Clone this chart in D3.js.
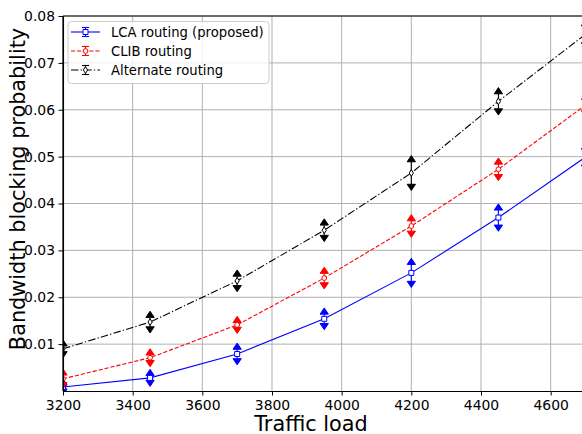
<!DOCTYPE html>
<html>
<head>
<meta charset="utf-8">
<script src="https://cdn.jsdelivr.net/npm/d3@7"></script>
<style>
  body { margin: 0; background: #fff; }
  svg { display: block; }
  text { font-family: "DejaVu Sans", sans-serif; fill: #000; }
</style>
</head>
<body>
<svg id="chart" width="582" height="434"></svg>
<script>
// Offered traffic load (x) and blocking probability per routing scheme
const loads = [3200, 3450, 3700, 3950, 4200, 4450, 4700];
const lcaBlocking  = [0.00085, 0.0028, 0.0079, 0.0154, 0.0252, 0.0370, 0.0499];
const clibBlocking = [0.0026, 0.0071, 0.0141, 0.0241, 0.0352, 0.0473, 0.0610];
const altBlocking  = [0.0090, 0.0147, 0.0235, 0.0343, 0.0465, 0.0618, 0.0761];
// Half-width of the confidence interval at each load
const lcaErr  = [0.0004, 0.0005, 0.0010, 0.0010, 0.0018, 0.0016, 0.0017];
const clibErr = [0.0008, 0.0006, 0.0005, 0.0010, 0.0011, 0.0011, 0.0012];
const altErr  = [0.0006, 0.0010, 0.0010, 0.0011, 0.0024, 0.0016, 0.0018];

const seriesNames = ["LCA routing (proposed)", "CLIB routing", "Alternate routing"];
const xTicks = [3200, 3400, 3600, 3800, 4000, 4200, 4400, 4600];
const yTicks = [0.01, 0.02, 0.03, 0.04, 0.05, 0.06, 0.07, 0.08];
const xLabel = "Traffic load";
const yLabel = "Bandwidth blocking probability";

const svg = d3.select("#chart");
const plot = { left: 63, right: 582, top: 16, bottom: 391 };

const x = d3.scaleLinear().domain([3200, 4690]).range([plot.left, plot.right]);
const y = d3.scaleLinear().domain([0, 0.08]).range([plot.bottom, plot.top]);

const series = [
  { name: seriesNames[0], values: lcaBlocking,  err: lcaErr,  color: "#0000ff", dash: null,            marker: "square" },
  { name: seriesNames[1], values: clibBlocking, err: clibErr, color: "#ff0000", dash: "4.2,1.9",       marker: "circle" },
  { name: seriesNames[2], values: altBlocking,  err: altErr,  color: "#000000", dash: "7.5,2.2,1.3,2.2", marker: "diamond" }
];

// Clip region for the data area
svg.append("defs").append("clipPath").attr("id", "plotClip")
  .append("rect")
  .attr("x", plot.left).attr("y", plot.top)
  .attr("width", plot.right - plot.left).attr("height", plot.bottom - plot.top);

// Grid lines
const grid = svg.append("g").attr("stroke", "#b0b0b0").attr("stroke-width", 1);
grid.selectAll("line.gx").data(xTicks).join("line")
  .attr("x1", d => x(d)).attr("x2", d => x(d))
  .attr("y1", plot.top).attr("y2", plot.bottom);
grid.selectAll("line.gy").data(yTicks).join("line")
  .attr("x1", plot.left).attr("x2", plot.right)
  .attr("y1", d => y(d)).attr("y2", d => y(d));

// Marker shapes
function markerPath(type) {
  if (type === "square") return d3.symbol(d3.symbolSquare, 25)();
  if (type === "circle") return d3.symbol(d3.symbolCircle, 18)();
  // thin diamond
  return "M0,-3.4L2.1,0L0,3.4L-2.1,0Z";
}
const capW = 8.3, capH = 6.2;
const caretUp = `M${-capW / 2},0L0,${-capH}L${capW / 2},0Z`;
const caretDown = `M${-capW / 2},0L0,${capH}L${capW / 2},0Z`;

const dataLayer = svg.append("g").attr("clip-path", "url(#plotClip)");

series.forEach(s => {
  const pts = loads.map((l, i) => ({ x: l, y: s.values[i], e: s.err[i] }));
  const g = dataLayer.append("g");

  // error bars: vertical span with caret ends
  const eb = g.selectAll("g.eb").data(pts).join("g");
  eb.append("line")
    .attr("x1", d => x(d.x)).attr("x2", d => x(d.x))
    .attr("y1", d => y(d.y - d.e)).attr("y2", d => y(d.y + d.e))
    .attr("stroke", s.color).attr("stroke-width", 1.1);
  eb.append("path")
    .attr("d", caretUp)
    .attr("transform", d => `translate(${x(d.x)},${y(d.y + d.e)})`)
    .attr("fill", s.color).attr("stroke", s.color).attr("stroke-width", 1);
  eb.append("path")
    .attr("d", caretDown)
    .attr("transform", d => `translate(${x(d.x)},${y(d.y - d.e)})`)
    .attr("fill", s.color).attr("stroke", s.color).attr("stroke-width", 1);

  // connecting line
  g.append("path")
    .datum(pts)
    .attr("d", d3.line().x(d => x(d.x)).y(d => y(d.y)))
    .attr("fill", "none")
    .attr("stroke", s.color)
    .attr("stroke-width", 1.1)
    .attr("stroke-dasharray", s.dash);

  // hollow markers
  g.selectAll("path.mk").data(pts).join("path")
    .attr("d", markerPath(s.marker))
    .attr("transform", d => `translate(${x(d.x)},${y(d.y)})`)
    .attr("fill", "#fff").attr("stroke", s.color).attr("stroke-width", 1);
});

// Axes
const xAxis = d3.axisBottom(x).tickValues(xTicks).tickFormat(d3.format("d"))
  .tickSize(4.5).tickSizeOuter(0).tickPadding(4.5);
const yAxis = d3.axisLeft(y).tickValues(yTicks).tickFormat(d3.format(".2f"))
  .tickSize(4.5).tickSizeOuter(0).tickPadding(3.5);

const gx = svg.append("g").attr("transform", `translate(0,${plot.bottom})`).call(xAxis);
const gy = svg.append("g").attr("transform", `translate(${plot.left},0)`).call(yAxis);
[gx, gy].forEach(g => {
  g.selectAll("text").attr("font-size", 13.9).attr("font-family", "DejaVu Sans, sans-serif").attr("fill", "#000");
  g.selectAll("line").attr("stroke", "#000").attr("stroke-width", 1);
  g.select(".domain").attr("stroke", "#000").attr("stroke-width", 1.1);
});
// full-height left spine and top spine
svg.append("line").attr("x1", plot.left).attr("x2", plot.left).attr("y1", plot.top).attr("y2", plot.bottom)
  .attr("stroke", "#000").attr("stroke-width", 1.1);
svg.append("line").attr("x1", plot.left).attr("x2", plot.right).attr("y1", plot.top).attr("y2", plot.top)
  .attr("stroke", "#000").attr("stroke-width", 1.1);

// Axis titles
svg.append("text").attr("x", 311).attr("y", 431).attr("text-anchor", "middle")
  .attr("font-size", 20.8).text(xLabel);
svg.append("text").attr("transform", "translate(25,189) rotate(-90)").attr("text-anchor", "middle")
  .attr("font-size", 20.8).text(yLabel);

// Legend
const lg = svg.append("g");
lg.append("rect").attr("x", 68).attr("y", 21.5).attr("width", 201).attr("height", 62)
  .attr("rx", 3.5).attr("fill", "#fff").attr("fill-opacity", 0.8)
  .attr("stroke", "#cccccc").attr("stroke-width", 1);
series.forEach((s, i) => {
  const cy = 32 + i * 19;
  const row = lg.append("g");
  row.append("line").attr("x1", 71).attr("x2", 100).attr("y1", cy).attr("y2", cy)
    .attr("stroke", s.color).attr("stroke-width", 1.1).attr("stroke-dasharray", s.dash);
  row.append("line").attr("x1", 85.5).attr("x2", 85.5).attr("y1", cy - 4.5).attr("y2", cy + 4.5)
    .attr("stroke", s.color).attr("stroke-width", 1.1);
  [cy - 4.5, cy + 4.5].forEach(cv => {
    row.append("line").attr("x1", 82).attr("x2", 89).attr("y1", cv).attr("y2", cv)
      .attr("stroke", s.color).attr("stroke-width", 1.1);
  });
  row.append("path").attr("d", markerPath(s.marker)).attr("transform", `translate(85.5,${cy})`)
    .attr("fill", "#fff").attr("stroke", s.color).attr("stroke-width", 1);
  row.append("text").attr("x", 111).attr("y", cy).attr("dy", "0.36em")
    .attr("font-size", 13.2).text(s.name);
});
</script>
</body>
</html>
